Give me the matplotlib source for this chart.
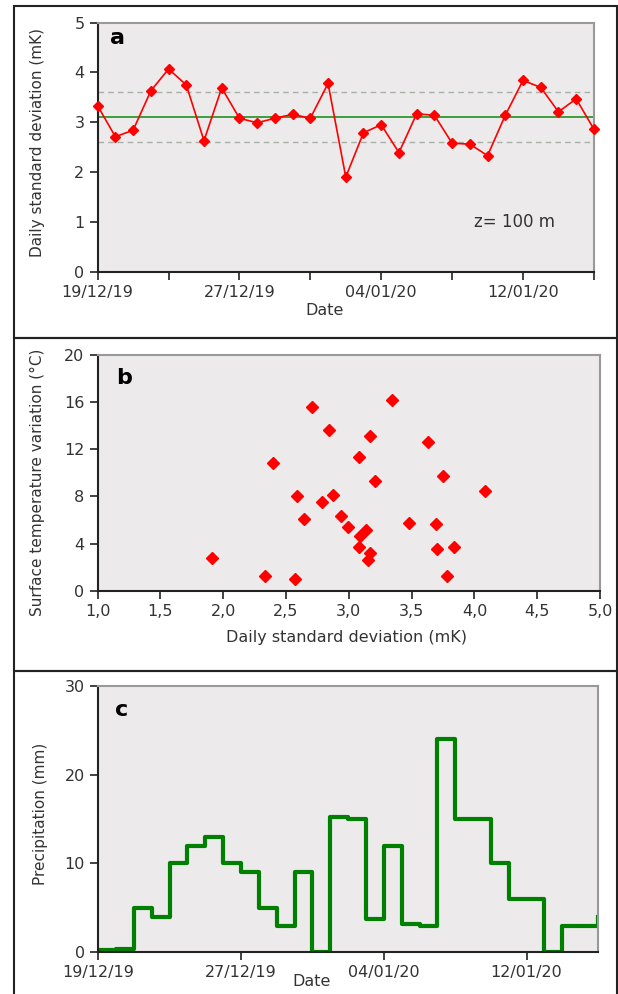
import numpy as np
import pandas as pd
import matplotlib
matplotlib.use('Agg')
import matplotlib.pyplot as plt
from matplotlib.patches import Rectangle

# daily std at z=100 m, 19/12/19 .. 16/01/20
start_date = '2019-12-19'
daily_std = [3.33, 2.71, 2.84, 3.63, 4.07, 3.75, 2.63, 3.69, 3.08, 2.99,
             3.08, 3.16, 3.08, 3.78, 1.90, 2.79, 2.95, 2.39, 3.17, 3.14,
             2.58, 2.56, 2.33, 3.14, 3.84, 3.70, 3.21, 3.47, 2.86]
std_mean = 3.10
std_band = 0.50

# scatter: std vs surface temperature variation
scat_std = [1.91, 2.33, 2.57, 2.40, 2.59, 2.64, 2.71, 2.79, 2.84, 2.87,
            2.94, 2.99, 3.08, 3.09, 3.08, 3.14, 3.17, 3.17, 3.15, 3.21,
            3.34, 3.48, 3.63, 3.69, 3.70, 3.75, 3.78, 3.84, 4.08]
scat_temp = [2.74, 1.24, 0.99, 10.85, 7.99, 6.10, 15.59, 7.51, 13.6, 8.14,
             6.36, 5.37, 11.36, 4.63, 3.73, 5.11, 13.1, 3.16, 2.60, 9.32,
             16.2, 5.76, 12.6, 5.62, 3.53, 9.72, 1.24, 3.73, 8.47]

# daily precipitation (mm)
precip = [0.2, 0.4, 5, 4, 10, 12, 13, 10, 9, 5, 3, 9, 0, 15.2, 15, 3.8, 12,
          3.2, 3, 24, 15, 15, 10, 6, 6, 0, 3, 3, 4]

dates = pd.date_range(start_date, periods=len(daily_std))
days = np.arange(len(daily_std))
major_days = [0, 8, 16, 24]
major_labels = [dates[d].strftime('%d/%m/%y') for d in major_days]

BG = '#ECEAEB'
TXT = '#333333'


def style_axes(ax):
    ax.set_facecolor(BG)
    for s in ['left', 'bottom']:
        ax.spines[s].set_color('#222222')
        ax.spines[s].set_linewidth(1.5)
    for s in ['top', 'right']:
        ax.spines[s].set_color('#999999')
        ax.spines[s].set_linewidth(1.5)
    ax.tick_params(direction='out', length=6, width=1.2, colors='#222222',
                   labelcolor=TXT, labelsize=11.5)


fig = plt.figure(figsize=(6.18, 9.94), dpi=100)

# panel frames
for y0, y1 in [(6, 338), (338, 671), (671, 1000)]:
    fig.patches.append(Rectangle((14 / 618, 1 - y1 / 994), 603 / 618, (y1 - y0) / 994,
                                 transform=fig.transFigure, fill=False,
                                 edgecolor='#222222', linewidth=1.5))

# ---- a ----
ax1 = fig.add_axes([0.158, 0.7267, 0.803, 0.2505])
style_axes(ax1)
ax1.axhline(std_mean + std_band, color='#a8b0a8', lw=1, ls=(0, (4, 3)))
ax1.axhline(std_mean - std_band, color='#a8b0a8', lw=1, ls=(0, (4, 3)))
ax1.axhline(std_mean, color='#2e9a2e', lw=1.3)
ax1.plot(days, daily_std, color='red', lw=1.2, marker='D', markersize=5.5, clip_on=False, zorder=5)
ax1.set_xlim(0, 28)
ax1.set_ylim(0, 5)
ax1.set_xticks(np.arange(0, 29, 4))
ax1.set_xticklabels([major_labels[i // 2] if i % 2 == 0 else '' for i in range(8)])
ax1.set_yticks(range(6))
ax1.set_xlabel('Date', fontsize=11.5, color=TXT, va='top')
ax1.xaxis.set_label_coords(0.458, -0.126)
ax1.set_ylabel('Daily standard deviation (mK)', fontsize=11, color=TXT)
ax1.yaxis.set_label_coords(-0.106, 0.52)
ax1.text(0.04, 0.94, 'a', transform=ax1.transAxes, fontsize=16, fontweight='bold',
         ha='center', va='center')
ax1.text(23.5, 1.0, 'z= 100 m', fontsize=12, color=TXT, ha='center', va='center')

# ---- b ----
ax2 = fig.add_axes([0.158, 0.4057, 0.813, 0.2374])
style_axes(ax2)
ax2.plot(scat_std, scat_temp, ls='none', marker='D', markersize=6, color='red')
ax2.set_xlim(1, 5)
ax2.set_ylim(0, 20)
xt = np.arange(1.0, 5.01, 0.5)
ax2.set_xticks(xt)
ax2.set_xticklabels([f'{v:.1f}'.replace('.', ',') for v in xt])
ax2.set_yticks(range(0, 21, 4))
ax2.set_xlabel('Daily standard deviation (mK)', fontsize=11.5, color=TXT, va='top')
ax2.xaxis.set_label_coords(0.496, -0.166)
ax2.set_ylabel('Surface temperature variation (°C)', fontsize=11, color=TXT)
ax2.yaxis.set_label_coords(-0.104, 0.458)
ax2.text(0.053, 0.90, 'b', transform=ax2.transAxes, fontsize=16, fontweight='bold',
         ha='center', va='center')

# ---- c ----
ax3 = fig.add_axes([0.159, 0.042, 0.8086, 0.268])
style_axes(ax3)
ax3.step(days, precip, where='post', color='#008000', lw=3)
ax3.set_xlim(0, 28)
ax3.set_ylim(0, 30)
ax3.set_xticks(major_days)
ax3.set_xticklabels(major_labels)
ax3.set_yticks(range(0, 31, 10))
ax3.set_xlabel('Date', fontsize=11.5, color=TXT, va='top')
ax3.xaxis.set_label_coords(0.426, -0.08)
ax3.set_ylabel('Precipitation (mm)', fontsize=11, color=TXT)
ax3.yaxis.set_label_coords(-0.10, 0.52)
ax3.text(0.047, 0.91, 'c', transform=ax3.transAxes, fontsize=16, fontweight='bold',
         ha='center', va='center')

fig.savefig('out.png', dpi=100)
